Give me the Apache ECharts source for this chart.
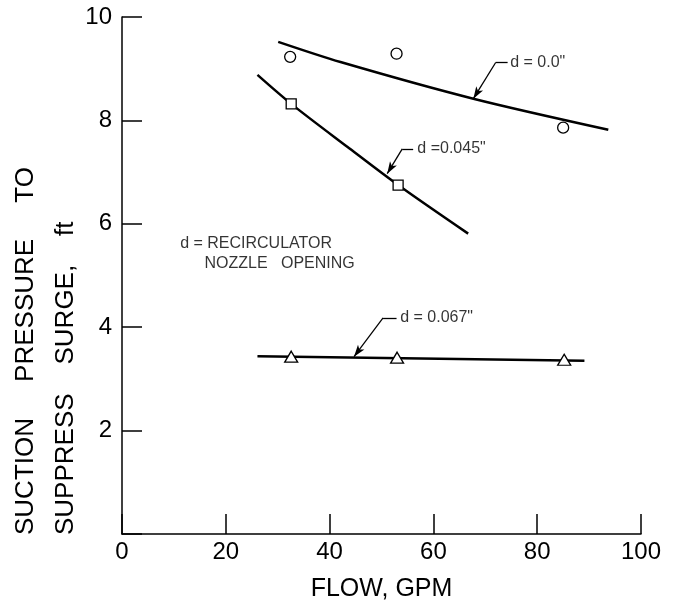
<!DOCTYPE html>
<html>
<head>
<meta charset="utf-8">
<script src="https://cdn.jsdelivr.net/npm/echarts@6/dist/echarts.min.js"></script>
<style>
  html, body { margin: 0; padding: 0; background: #fff; }
  #chart { width: 676px; height: 603px; }
</style>
</head>
<body>
<div id="chart"></div>
<script>
var yTicks = [2, 4, 6, 8, 10]

// measured points
var d0Points = [[32.4, 9.23], [52.9, 9.29], [85.0, 7.86]]
var d045Points = [[32.6, 8.32], [53.2, 6.75]]
var d067Points = [[32.6, 3.43], [53.0, 3.41], [85.2, 3.37]]

// faired curves
var d0Curve = [[30.1, 9.52], [42.1, 9.13], [67.7, 8.42], [93.7, 7.82]]
var d045Curve = [[26.1, 8.88], [32.6, 8.32], [43.4, 7.49], [53.2, 6.75], [66.7, 5.81]]
var d067Curve = [[26.1, 3.44], [89.1, 3.35]]

// callouts
var noteLabels = ['d = 0.0"', 'd =0.045"', 'd = 0.067"', 'd = RECIRCULATOR', 'NOZZLE   OPENING']
var notePos = [[74.8, 9.12], [56.9, 7.45], [53.6, 4.18], [11.2, 5.61], [15.9, 5.23]]
var leaderTips = [[67.7, 8.42], [51.1, 6.97], [44.7, 3.43]]
var leaderBends = [[72.0, 9.12], [54.0, 7.45], [50.3, 4.18]]
var leaderEnds = [[74.3, 9.12], [56.1, 7.45], [52.9, 4.18]]

var font = '"Liberation Sans", Arial, sans-serif'

var leaders = []
for (var i = 0; i < leaderTips.length; i++) {
  leaders.push([{coord: leaderEnds[i], symbol: 'none'}, {coord: leaderBends[i], symbol: 'none'}])
  leaders.push([{coord: leaderBends[i], symbol: 'none'}, {coord: leaderTips[i], symbol: 'arrow'}])
}

var notes = notePos.map(function (p, i) {
  return {value: p, name: noteLabels[i]}
})

function curve (data, smooth) {
  return {
    type: 'line',
    data: data,
    smooth: smooth,
    showSymbol: false,
    symbol: 'none',
    silent: true,
    z: 2,
    lineStyle: {color: '#000', width: 2.5}
  }
}

function marks (data, symbol, size) {
  return {
    type: 'scatter',
    data: data,
    symbol: symbol,
    symbolSize: size,
    z: 5,
    itemStyle: {color: '#fff', borderColor: '#000', borderWidth: 1.3, opacity: 1}
  }
}

var myChart = echarts.init(document.getElementById('chart'))
var option = {
  backgroundColor: '#fff',
  animation: false,
  grid: {left: 122, right: 35, top: 17, bottom: 69, containLabel: false, outerBoundsMode: 'none'},
  xAxis: {
    type: 'value',
    min: 0,
    max: 100,
    interval: 20,
    name: 'FLOW, GPM',
    nameLocation: 'middle',
    nameGap: 43,
    nameTextStyle: {fontSize: 25, color: '#000', fontFamily: font},
    axisLine: {lineStyle: {color: '#000', width: 1.5}},
    axisTick: {inside: true, length: 20, lineStyle: {color: '#000', width: 1.5}},
    splitLine: {show: false},
    axisLabel: {fontSize: 24, color: '#000', margin: 6, fontFamily: font}
  },
  yAxis: {
    type: 'value',
    min: 0,
    max: 10,
    interval: 2,
    axisLine: {show: true, lineStyle: {color: '#000', width: 1.5}},
    axisTick: {show: true, inside: true, length: 20, lineStyle: {color: '#000', width: 1.5}},
    splitLine: {show: false},
    axisLabel: {
      fontSize: 24,
      color: '#000',
      margin: 10,
      fontFamily: font,
      formatter: function (v) {
        return yTicks.indexOf(v) >= 0 ? String(v) : ''
      }
    }
  },
  graphic: [
    {
      type: 'text',
      x: 26,
      y: 535,
      rotation: Math.PI / 2,
      style: {
        text: 'SUCTION     PRESSURE     TO',
        font: '26px ' + font,
        fill: '#000',
        textAlign: 'left',
        textVerticalAlign: 'middle',
        align: 'left',
        verticalAlign: 'middle'
      }
    },
    {
      type: 'text',
      x: 66,
      y: 535,
      rotation: Math.PI / 2,
      style: {
        text: 'SUPPRESS    SURGE,    ft',
        font: '26px ' + font,
        fill: '#000',
        textAlign: 'left',
        textVerticalAlign: 'middle',
        align: 'left',
        verticalAlign: 'middle'
      }
    }
  ],
  series: [
    curve(d0Curve, 0.3),
    curve(d045Curve, 0.3),
    curve(d067Curve, false),
    marks(d0Points, 'circle', 11),
    marks(d045Points, 'rect', 10),
    marks(d067Points, 'triangle', [13, 11]),
    {
      type: 'line',
      data: [],
      markLine: {
        silent: true,
        animation: false,
        symbol: ['none', 'arrow'],
        symbolSize: [6, 12],
        label: {show: false},
        lineStyle: {color: '#000', width: 1.3, type: 'solid'},
        data: leaders
      }
    },
    {
      type: 'scatter',
      data: notes,
      symbolSize: 0,
      silent: true,
      label: {
        show: true,
        position: 'right',
        distance: 0,
        formatter: '{b}',
        fontSize: 16,
        color: '#000',
        fontFamily: font
      }
    }
  ]
}
myChart.setOption(option, true)
</script>
</body>
</html>
